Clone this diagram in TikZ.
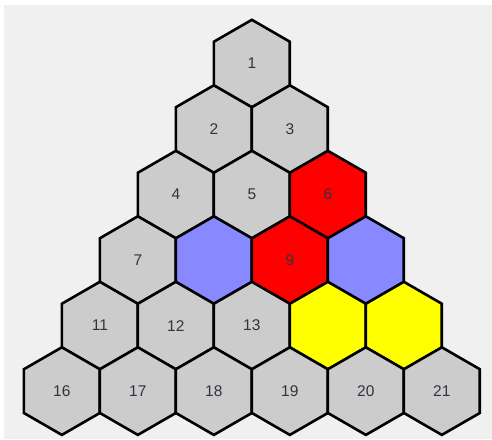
\documentclass[tikz,border=0pt]{standalone}
\usepackage{fontspec}
\setmainfont{Liberation Sans}
\usepackage{tikz}
\usetikzlibrary{shapes.geometric}

\definecolor{bggray}{HTML}{F0F0F0}
\definecolor{cellgray}{HTML}{CCCCCC}
\definecolor{hexred}{HTML}{FF0000}
\definecolor{hexblue}{HTML}{8888FF}
\definecolor{hexyellow}{HTML}{FFFF00}
\definecolor{labelgray}{HTML}{333340}

\begin{document}
\begin{tikzpicture}[x=1pt, y=-1pt,
    hexcell/.style={regular polygon, regular polygon sides=6, shape border rotate=30,
        minimum size=87.6pt, inner sep=0pt, draw=black, line width=2.6pt,
        line join=miter, fill=cellgray, text=labelgray, font=\fontsize{15.5}{18}\selectfont},
    cell 6/.style={fill=hexred},
    cell 9/.style={fill=hexred},
    cell 8/.style={fill=hexblue},
    cell 10/.style={fill=hexblue},
    cell 14/.style={fill=hexyellow},
    cell 15/.style={fill=hexyellow}]
    \useasboundingbox (0,0) rectangle (492,439);
    \fill[white] (0,0) rectangle (492,439);
    \fill[bggray] (4,5) rectangle (492,439);

    % triangle of cells, row r holds r cells
    \foreach \r in {1,...,6}{
        \foreach \k in {1,...,\r}{
            \pgfmathtruncatemacro{\n}{\r*(\r-1)/2+\k}
            % coloured cells 8, 10, 14, 15 carry no number
            \pgfmathtruncatemacro{\hide}{or(or(\n==8,\n==10),or(\n==14,\n==15))}
            \ifnum\hide=1 \def\lab{}\else\edef\lab{\n}\fi
            \node[hexcell, cell \n/.try] (h\n)
                at ({251.85+(\k-1)*76-(\r-1)*38}, {63.6+(\r-1)*65.5}) {\lab};
        }
    }
\end{tikzpicture}
\end{document}
